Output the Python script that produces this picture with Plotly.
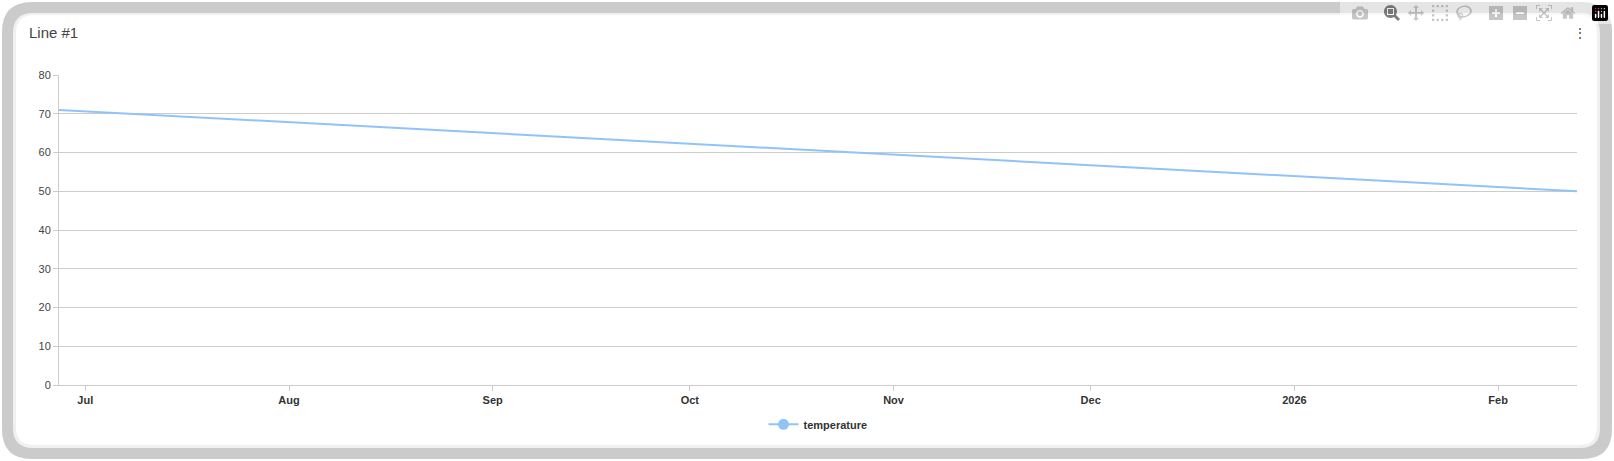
import pandas as pd
import plotly.graph_objects as go

# data
dates = ["2025-06-27", "2026-02-13"]
temperature = [71, 50]
month_ticks = ["2025-07-01", "2025-08-01", "2025-09-01", "2025-10-01",
               "2025-11-01", "2025-12-01", "2026-01-01", "2026-02-01"]
month_labels = ["Jul", "Aug", "Sep", "Oct", "Nov", "Dec", "2026", "Feb"]

W, H = 1614, 461
L, R, T, B = 59, 37, 75, 76
pw, ph = W - L - R, H - T - B


def px(x):
    return (x - L) / pw


def py(y):
    return (H - B - y) / ph


def rounded(x0, y0, x1, y1, r):
    a, b, c, d = px(x0), px(x1), py(y0), py(y1)
    rx, ry = r / pw, r / ph
    return (f"M {a+rx},{c} L {b-rx},{c} Q {b},{c} {b},{c-ry} L {b},{d+ry} "
            f"Q {b},{d} {b-rx},{d} L {a+rx},{d} Q {a},{d} {a},{d+ry} "
            f"L {a},{c-ry} Q {a},{c} {a+rx},{c} Z")


fig = go.Figure()
fig.add_trace(go.Scatter(x=pd.to_datetime(dates), y=temperature, mode="lines",
                         name="temperature", showlegend=False,
                         line=dict(color="#90c4f9", width=2)))
# legend entry with the dot on the line, as in the reference
fig.add_trace(go.Scatter(x=[None], y=[None], mode="lines+markers",
                         name="temperature",
                         line=dict(color="#90c4f9", width=2),
                         marker=dict(color="#90c4f9", size=11)))

fig.update_layout(
    width=W, height=H,
    margin=dict(l=L, r=R, t=T, b=B),
    paper_bgcolor="white", plot_bgcolor="rgba(0,0,0,0)",
    font=dict(family="Liberation Sans, Arial", size=11, color="#444"),
    showlegend=True,
    legend=dict(orientation="h", x=0.5, xanchor="center", y=-0.08, yanchor="top",
                font=dict(size=11, color="#333", weight="bold")),
    shapes=[
        dict(type="path", xref="paper", yref="paper", layer="below",
             path=rounded(2, 2, W - 2, H - 2, 30), fillcolor="#cbcbcb", line_width=0),
        dict(type="path", xref="paper", yref="paper", layer="below",
             path=rounded(13, 13, W - 14, H - 13, 20), fillcolor="#f0f0f0", line_width=0),
        dict(type="path", xref="paper", yref="paper", layer="below",
             path=rounded(16, 15, W - 17, H - 16, 18), fillcolor="white", line_width=0),
    ],
    annotations=[
        dict(text="Line #1", xref="paper", yref="paper", x=px(27), y=py(33),
             xanchor="left", yanchor="middle", showarrow=False,
             font=dict(size=15, color="#444")),
        dict(text="⋮", xref="paper", yref="paper", x=px(1580), y=py(33),
             xanchor="center", yanchor="middle", showarrow=False,
             font=dict(size=12, color="#333")),
    ],
)
fig.update_xaxes(tickvals=pd.to_datetime(month_ticks), ticktext=month_labels,
                 range=pd.to_datetime(dates), showgrid=False,
                 showline=True, linecolor="#ccc", ticks="outside", ticklen=5,
                 tickcolor="#ccc", tickfont=dict(size=11, color="#333", weight="bold"))
fig.update_yaxes(range=[0, 80], dtick=10, gridcolor="#ccc", showline=True,
                 linecolor="#ccc", ticks="outside", ticklen=5, tickcolor="#ccc",
                 zeroline=False, tickfont=dict(size=11, color="#444"))

fig.write_html("out.html", post_script="document.body.style.margin='0';")
